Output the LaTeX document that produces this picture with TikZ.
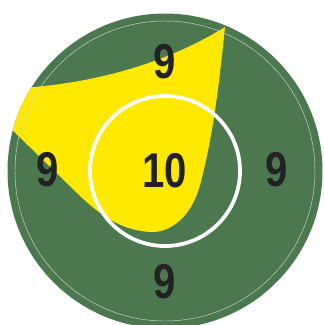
\documentclass[tikz,border=0pt]{standalone}
\usepackage{fontspec}
\newfontfamily\scorefont[FakeStretch=0.82]{Liberation Sans}
\definecolor{targetgreen}{HTML}{4C7850}
\definecolor{hityellow}{HTML}{FFE900}
\definecolor{digitgray}{HTML}{222222}
\begin{document}
\begin{tikzpicture}[x=0.03cm,y=-0.03cm,
    score/.style={inner sep=0pt,text=digitgray,font=\scorefont\bfseries\fontsize{41.7}{42}\selectfont}]
    \useasboundingbox (0,0) rectangle (323,325);
    \fill [white] (0,0) rectangle (323,325);
    % target
    \coordinate (c) at (165,171);
    \fill [targetgreen] (c) circle (157.5);
    \begin{scope}
        \clip (c) circle (157.5);
        \fill [hityellow] (225,27) .. controls (185,52) and (110,86) .. (0,89)
            -- (0,118) -- (77,193) .. controls (100,215) and (120,230) .. (150,232)
            .. controls (172,233) and (192,215) .. (200,185)
            .. controls (212,140) and (218,95) .. (225,27) -- cycle;
    \end{scope}
    \draw [white!70!targetgreen, line width=0.4pt] (c) circle (150);
    \draw [white, line width=3.2pt] (c) circle (75);
    % scores
    \node [score] (ten) at (c) {10};
    \node [score] (ninetop) at (165,62) {9};
    \node [score] (nineleft) at (48,170) {9};
    \node [score] (nineright) at (277,170) {9};
    \node [score] (ninebottom) at (165,282) {9};
\end{tikzpicture}
\end{document}
